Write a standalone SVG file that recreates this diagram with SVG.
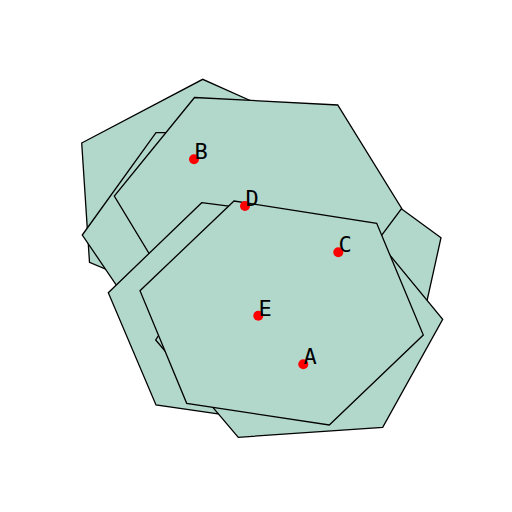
<svg xmlns="http://www.w3.org/2000/svg" width="512" height="512" viewBox="0 0 512 512">
<style>
.poly{fill:#b2d8cb;stroke:#000;stroke-width:1.3;stroke-linejoin:miter}
.pt{fill:#ff0000}
.lbl{font-family:"DejaVu Sans Mono",monospace;font-size:22px;fill:#000}
</style>
<rect width="512" height="512" fill="#fff"/>
<g id="regions">
<g id="poly1"><polygon class="poly" points="81.7,143 202.7,79.3 258,104 441,237.7 425,310 250,330 89.5,262.3"/></g>
<g id="poly3"><polygon class="poly" points="82.3,235 156,132.7 200,132.7 240,230 140,320"/></g>
<g id="poly2"><polygon class="poly" points="194.5,97.5 337.7,105 401.7,208.5 340,291 176,298 114.3,196"/></g>
<g id="poly4"><polygon class="poly" points="201.7,202.7 290,214 340,300 310,427 156,405 108.3,292.7"/></g>
<g id="poly6"><polygon class="poly" points="155.7,340 238.3,437.3 382.7,427.3 442.7,319.3 379.6,242.7 199.3,273"/></g>
<g id="poly5"><polygon class="poly" points="234,201 376.7,223.3 423.3,335 329.3,425 186.7,403.3 140,290.7"/></g>
</g>
<g id="pointA"><circle class="pt" cx="303.3" cy="364.3" r="5"/><text class="lbl" x="303.5" y="364">A</text></g>
<g id="pointB"><circle class="pt" cx="194" cy="159.3" r="5"/><text class="lbl" x="194.5" y="159">B</text></g>
<g id="pointC"><circle class="pt" cx="338.3" cy="252.3" r="5"/><text class="lbl" x="338.5" y="252">C</text></g>
<g id="pointD"><circle class="pt" cx="245" cy="206" r="5"/><text class="lbl" x="245.5" y="205.5">D</text></g>
<g id="pointE"><circle class="pt" cx="258.3" cy="315.7" r="5"/><text class="lbl" x="258.5" y="315.5">E</text></g>
</svg>
